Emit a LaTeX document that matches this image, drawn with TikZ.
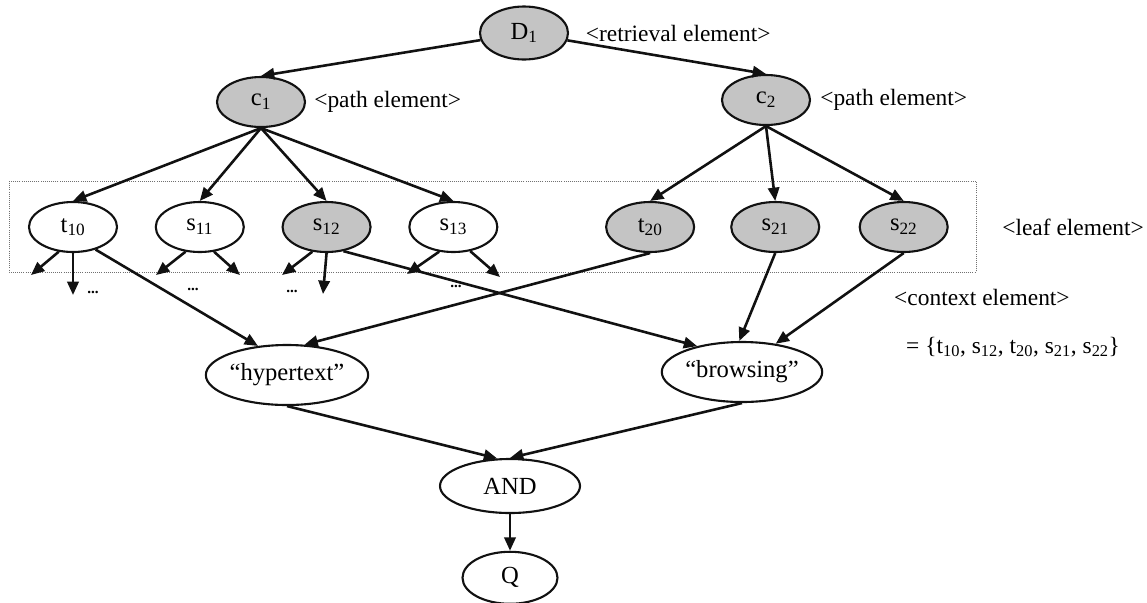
\documentclass[tikz,border=0pt]{standalone}
\usepackage{fontspec}
\setmainfont{Liberation Serif}
\usetikzlibrary{arrows.meta,positioning,shapes.geometric}
\definecolor{ink}{HTML}{111111}
\definecolor{dotfill}{HTML}{C4C4C4}
\definecolor{framegray}{HTML}{707070}
\tikzset{
  elem/.style={ellipse, draw=ink, line width=1.8pt, inner sep=0pt, minimum width=2.64cm, minimum height=1.5cm, font=\fontsize{21}{24}\selectfont},
  shaded/.style={elem, fill=dotfill},
  term/.style={elem, minimum width=4.5cm, minimum height=1.8cm},
  note/.style={inner sep=0pt, font=\fontsize{20}{24}\selectfont},
  moredots/.style={inner sep=0pt, font=\fontsize{13}{14}\selectfont\bfseries},
  arrow/.style={-{Triangle[length=4mm, width=3.4mm]}, line width=2.2pt, draw=ink},
  leafframe/.style={draw=framegray, densely dotted, line width=0.8pt}
}

\begin{document}
\begin{tikzpicture}[x=0.03cm, y=-0.03cm]
  \useasboundingbox (0,0) rectangle (1147,602);

  % retrieval and path elements
  \node[shaded, minimum height=1.59cm] (D1) at (524,33) {D\textsubscript{1}};
  \node[shaded] (c1) at (261,102) {c\textsubscript{1}};
  \node[shaded] (c2) at (766,100) {c\textsubscript{2}};
  \node[note, right=5mm of D1] (retr) {<retrieval element>};
  \node[note, right=2.4mm of c1] (path1) {<path element>};
  \node[note, right=2.7mm of c2] (path2) {<path element>};

  % leaf elements
  \node[elem] (t10) at (73,227) {t\textsubscript{10}};
  \node[elem, right=1.1cm of t10] (s11) {s\textsubscript{11}};
  \node[shaded, right=1.1cm of s11] (s12) {s\textsubscript{12}};
  \node[elem, right=1.1cm of s12] (s13) {s\textsubscript{13}};
  \node[shaded, right=3.2cm of s13] (t20) {t\textsubscript{20}};
  \node[shaded, right=1.05cm of t20] (s21) {s\textsubscript{21}};
  \node[shaded, right=1.15cm of s21] (s22) {s\textsubscript{22}};
  \draw[leafframe] (9,181) rectangle (976,272);
  \node[note, right=1.6cm of s22] (leaf) {<leaf element>};

  % context element and query
  \node[term] (hyper) at (287,375) {“hypertext”};
  \node[term] (brows) at (742,372) {“browsing”};
  \node[elem, minimum width=4.2cm, minimum height=1.62cm] (and) at (510,486) {AND};
  \node[elem, minimum width=2.85cm, minimum height=1.56cm, below=1.1cm of and] (q) {Q};
  \node[note, anchor=west] (ctx) at (894,297) {<context element>};
  \node[note, anchor=west] (set) at (906,347) {= \{t\textsubscript{10}, s\textsubscript{12}, t\textsubscript{20}, s\textsubscript{21}, s\textsubscript{22}\}};

  % loose ends below the leaves
  \coordinate (t10a) at (31,275);
  \coordinate (t10b) at (73,295);
  \coordinate (s11a) at (156,275);
  \coordinate (s11b) at (240,275);
  \coordinate (s12a) at (282,275);
  \coordinate (s12b) at (323,294);
  \coordinate (s13a) at (407,274);
  \coordinate (s13b) at (500,277);
  \node[moredots] (t10m) at (93,292) {...};
  \node[moredots] (s11m) at (193,289) {...};
  \node[moredots] (s12m) at (292,291) {...};
  \node[moredots] (s13m) at (456,286) {...};

  \draw[arrow] (D1) -- (c1.north);
  \draw[arrow] (D1) -- (c2.north);
  \draw[arrow] (c1.south) -- (t10.north);
  \draw[arrow] (c1.south) -- (s11.north);
  \draw[arrow] (c1.south) -- (s12.north);
  \draw[arrow] (c1.south) -- (s13.north);
  \draw[arrow] (c2.south) -- (t20.north);
  \draw[arrow] (c2.south) -- (s21.north);
  \draw[arrow] (c2.south) -- (s22.north);

  \draw[arrow] (t10.-120) -- (t10a);
  \draw[arrow] (t10.south) -- (t10b);
  \draw[arrow] (s11.-120) -- (s11a);
  \draw[arrow] (s11.-60) -- (s11b);
  \draw[arrow] (s12.-120) -- (s12a);
  \draw[arrow] (s12.south) -- (s12b);
  \draw[arrow] (s13.-120) -- (s13a);
  \draw[arrow] (s13.-55) -- (s13b);

  \draw[arrow] (t10.-45) -- (hyper.135);
  \draw[arrow] (t20.south) -- (hyper.60);
  \draw[arrow] (s12.-55) -- (brows.150);
  \draw[arrow] (s21.south) -- (brows.95);
  \draw[arrow] (s22.south) -- (brows.40);
  \draw[arrow] (hyper.south) -- (and.115);
  \draw[arrow] (brows.south) -- (and.north);
  \draw[arrow] (and) -- (q);
\end{tikzpicture}
\end{document}
